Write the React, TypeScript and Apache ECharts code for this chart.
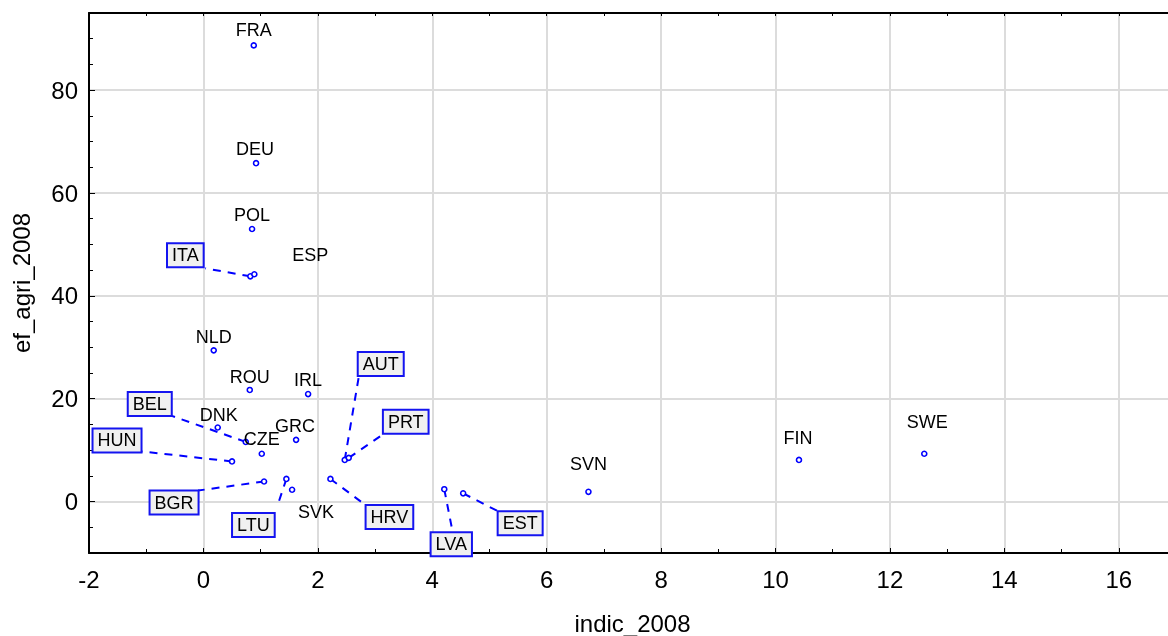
import React, { useEffect, useRef } from 'react';
import * as echarts from 'echarts';

const countries = ['FRA', 'DEU', 'POL', 'ITA', 'ESP', 'NLD', 'ROU', 'IRL', 'BEL', 'DNK', 'CZE', 'GRC', 'HUN', 'BGR', 'LTU', 'SVK', 'AUT', 'PRT', 'HRV', 'LVA', 'EST', 'SVN', 'FIN', 'SWE'];
const indic2008 = [0.88, 0.92, 0.85, 0.82, 0.89, 0.18, 0.81, 1.83, 0.74, 0.25, 1.02, 1.62, 0.5, 1.06, 1.45, 1.55, 2.47, 2.54, 2.22, 4.21, 4.54, 6.73, 10.41, 12.6];
const efAgri2008 = [88.7, 65.8, 53.0, 43.8, 44.2, 29.4, 21.7, 20.9, 11.6, 14.4, 9.3, 12.0, 7.8, 3.9, 4.4, 2.3, 8.1, 8.5, 4.4, 2.4, 1.6, 1.9, 8.1, 9.3];
const boxedCountries = ['ITA', 'BEL', 'HUN', 'BGR', 'LTU', 'AUT', 'PRT', 'HRV', 'LVA', 'EST'];
const yTickValues = [0, 20, 40, 60, 80];

// label centre offsets (px) relative to the point
const labelOffsets: Record<string, [number, number]> = {
  FRA: [0, -15], DEU: [-1, -14], POL: [0, -14], ITA: [-65, -21], ESP: [56, -19],
  NLD: [0, -13], ROU: [0, -13], IRL: [0, -14], BEL: [-96, -38], DNK: [1, -13],
  CZE: [0, -15], GRC: [-1, -14], HUN: [-115, -21], BGR: [-90, 21], LTU: [-33, 46],
  SVK: [24, 22], AUT: [36, -96], PRT: [57, -36], HRV: [59, 38], LVA: [7, 55],
  EST: [57, 30], SVN: [0, -28], FIN: [-1, -22], SWE: [3, -32],
};

// leader line end (px) relative to the point, for boxed labels
const leaderEnds: Record<string, [number, number]> = {
  ITA: [-45, -8], BEL: [-74, -26], HUN: [-90, -10], BGR: [-66, 9], LTU: [-8, 24],
  AUT: [14, -83], PRT: [35, -24], HRV: [35, 26], LVA: [8, 41], EST: [35, 18],
};

const FONT = '"Liberation Sans", Arial, Helvetica, sans-serif';

export default function App() {
  const ref = useRef<HTMLDivElement>(null);
  useEffect(() => {
    if (!ref.current) return;
    const chart = echarts.init(ref.current, null, { renderer: 'svg' });
    const data = countries.map((c, i) => {
      const boxed = boxedCountries.includes(c);
      const item: any = { name: c, value: [indic2008[i], efAgri2008[i]] };
      if (boxed) {
        item.label = {
          backgroundColor: '#f0f0f0',
          borderColor: '#1414f0',
          borderWidth: 2,
          padding: [3, 4, 1, 4],
        };
      }
      return item;
    });
    const leaderData = boxedCountries.map((c) => {
      const i = countries.indexOf(c);
      return { name: c, value: [indic2008[i], efAgri2008[i]] };
    });
    const option: any = {
      animation: false,
      grid: { left: 89, right: -8, top: 13, bottom: 83, outerBoundsMode: 'none' },
      xAxis: [
        {
          type: 'value',
          position: 'bottom',
          min: -2,
          max: 17,
          interval: 2,
          name: 'indic_2008',
          nameLocation: 'middle',
          nameGap: 58,
          nameTextStyle: { fontSize: 24, color: '#000', fontFamily: FONT },
          axisLine: { show: true, onZero: false, lineStyle: { color: '#000', width: 2 } },
          axisTick: { show: true, inside: true, length: 5, lineStyle: { color: '#000', width: 1 } },
          minorTick: { show: true, splitNumber: 2, length: 4, lineStyle: { color: '#000', width: 1 } },
          axisLabel: {
            fontSize: 24, color: '#000', margin: 14, fontFamily: FONT, showMaxLabel: false,
            formatter: (v: number) => (v > 16 ? '' : String(v)),
          },
          splitLine: { show: true, lineStyle: { color: '#dcdcdc', width: 2 } },
        },
        {
          type: 'value',
          position: 'top',
          min: -2,
          max: 17,
          interval: 1,
          axisLine: { show: true, onZero: false, lineStyle: { color: '#000', width: 2 } },
          axisTick: { show: true, inside: true, length: 3, lineStyle: { color: '#000', width: 1 } },
          axisLabel: { show: false },
          splitLine: { show: false },
        },
      ],
      yAxis: [
        {
          type: 'value',
          position: 'left',
          min: -10,
          max: 95,
          name: 'ef_agri_2008',
          nameLocation: 'middle',
          nameGap: 56,
          nameTextStyle: { fontSize: 24, color: '#000', fontFamily: FONT },
          axisLine: { show: true, onZero: false, lineStyle: { color: '#000', width: 2 } },
          axisTick: { show: true, inside: true, length: 6, customValues: yTickValues, lineStyle: { color: '#000', width: 1 } },
          axisLabel: { fontSize: 24, color: '#000', margin: 11, fontFamily: FONT, customValues: yTickValues },
          splitLine: { show: true, lineStyle: { color: '#dcdcdc', width: 2 } },
        },
        {
          type: 'value',
          position: 'left',
          min: -10,
          max: 95,
          interval: 5,
          axisLine: { show: false, onZero: false },
          axisTick: { show: true, inside: true, length: 4, lineStyle: { color: '#000', width: 1 } },
          axisLabel: { show: false },
          splitLine: { show: false },
        },
      ],
      series: [
        {
          type: 'custom',
          xAxisIndex: 0,
          yAxisIndex: 0,
          silent: true,
          renderItem: (params: any, api: any) => {
            const p = api.coord([api.value(0), api.value(1)]);
            const e = leaderEnds[boxedCountries[params.dataIndex]] || [0, 0];
            return {
              type: 'line',
              shape: { x1: p[0], y1: p[1], x2: p[0] + e[0], y2: p[1] + e[1] },
              style: { stroke: '#0000ff', lineWidth: 2, lineDash: [8, 7], fill: null },
            };
          },
          data: leaderData,
        },
        {
          type: 'scatter',
          xAxisIndex: 0,
          yAxisIndex: 0,
          symbol: 'circle',
          symbolSize: 5,
          itemStyle: { color: '#ffffff', borderColor: '#0000ff', borderWidth: 1.6, opacity: 1 },
          label: {
            show: true,
            position: 'inside',
            formatter: '{b}',
            color: '#000',
            fontSize: 18,
            fontFamily: FONT,
          },
          labelLayout: (params: any) => {
            const name = countries[params.dataIndex];
            const o = labelOffsets[name] || [0, -15];
            return { dx: o[0], dy: o[1] };
          },
          emphasis: { disabled: true },
          data,
        },
      ],
    };
    chart.setOption(option);
    return () => chart.dispose();
  }, []);
  return <div ref={ref} style={{ position: 'fixed', left: 0, top: 0, width: 1168, height: 636 }} />;
}
